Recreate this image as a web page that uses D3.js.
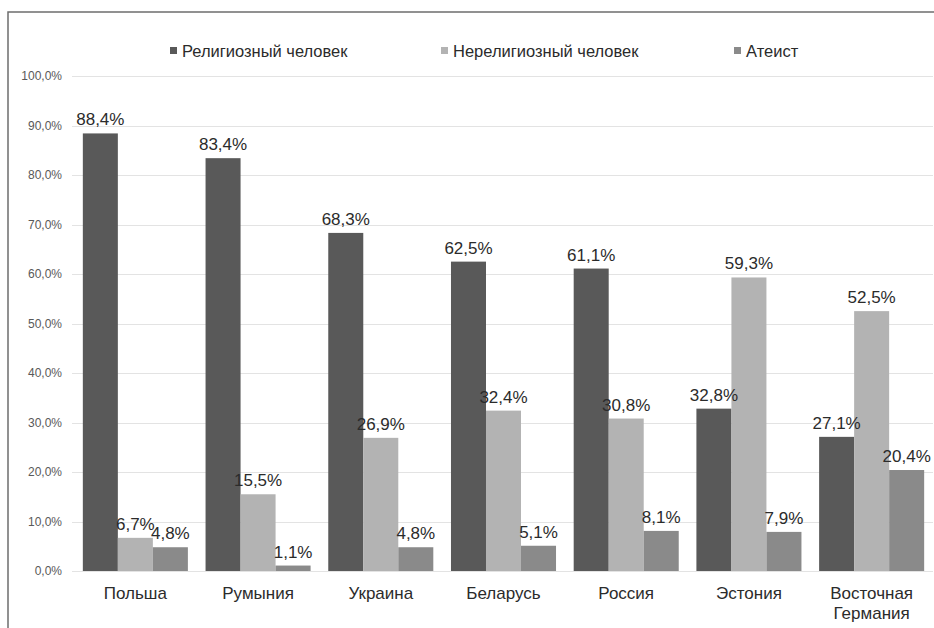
<!DOCTYPE html>
<html>
<head>
<meta charset="utf-8">
<script src="https://cdn.jsdelivr.net/npm/d3@7"></script>
<style>
  html, body { margin: 0; padding: 0; background: #fff; }
  svg { display: block; font-family: "Liberation Sans", Arial, sans-serif; }
</style>
</head>
<body>
<svg id="chart" width="934" height="628"></svg>
<script>
// ---- data ----
const categories = [["Польша"], ["Румыния"], ["Украина"], ["Беларусь"], ["Россия"], ["Эстония"], ["Восточная", "Германия"]];
const seriesNames = ["Религиозный человек", "Нерелигиозный человек", "Атеист"];
const religious   = [88.4, 83.4, 68.3, 62.5, 61.1, 32.8, 27.1];
const nonReligious = [6.7, 15.5, 26.9, 32.4, 30.8, 59.3, 52.5];
const atheist     = [4.8, 1.1, 4.8, 5.1, 8.1, 7.9, 20.4];
const yTicks = [0, 10, 20, 30, 40, 50, 60, 70, 80, 90, 100];

const seriesValues = [religious, nonReligious, atheist];
const colors = ["#595959", "#b3b3b3", "#8a8a8a"];
const fmt = v => v.toFixed(1).replace(".", ",") + "%";

const svg = d3.select("#chart");

// frame (partial border)
svg.append("path")
  .attr("d", "M8,628 L8,12 L934,12")
  .attr("fill", "none").attr("stroke", "#6e6e6e").attr("stroke-width", 1.5);

const catKeys = categories.map(c => c.join(" "));
const x = d3.scaleBand().domain(catKeys).range([74, 933]).paddingInner(0.144).paddingOuter(0.072);
const xs = d3.scaleBand().domain(seriesNames).range([0, x.bandwidth()]).padding(0);
const y = d3.scaleLinear().domain([0, 100]).range([571, 76]);

// gridlines
svg.append("g").selectAll("line").data(yTicks).join("line")
  .attr("x1", 72).attr("x2", 933)
  .attr("y1", d => Math.round(y(d)) + 0.5).attr("y2", d => Math.round(y(d)) + 0.5)
  .attr("stroke", "#e3e3e3").attr("stroke-width", 1);

// y axis labels
const yAxis = d3.axisLeft(y).tickValues(yTicks).tickSize(0).tickPadding(0).tickFormat(fmt);
const gy = svg.append("g").attr("transform", "translate(62,0)").call(yAxis);
gy.select(".domain").remove();
gy.selectAll("text").attr("font-size", 12).attr("fill", "#595959")
  .attr("font-family", "'Liberation Sans', Arial, sans-serif");

// bars
const rows = [];
catKeys.forEach((c, i) => seriesNames.forEach((s, j) => rows.push({ c, s, j, v: seriesValues[j][i] })));

svg.append("g").selectAll("rect").data(rows).join("rect")
  .attr("x", d => x(d.c) + xs(d.s))
  .attr("y", d => y(d.v))
  .attr("width", xs.bandwidth())
  .attr("height", d => y(0) - y(d.v))
  .attr("fill", d => colors[d.j]);

// data labels
svg.append("g").selectAll("text").data(rows).join("text")
  .attr("x", d => x(d.c) + xs(d.s) + xs.bandwidth() / 2)
  .attr("y", d => y(d.v) - 8)
  .attr("text-anchor", "middle")
  .attr("font-size", 17).attr("fill", "#2b2b2b")
  .text(d => fmt(d.v));

// x axis labels
const gx = svg.append("g");
categories.forEach((lines, i) => {
  const t = gx.append("text")
    .attr("x", x(catKeys[i]) + x.bandwidth() / 2)
    .attr("y", 599)
    .attr("text-anchor", "middle")
    .attr("font-size", 17).attr("fill", "#2b2b2b");
  lines.forEach((ln, k) => t.append("tspan")
    .attr("x", x(catKeys[i]) + x.bandwidth() / 2)
    .attr("dy", k === 0 ? 0 : 20).text(ln));
});

// legend
const legendX = [170, 441, 734];
const lg = svg.append("g");
seriesNames.forEach((s, j) => {
  lg.append("rect").attr("x", legendX[j]).attr("y", 47).attr("width", 7).attr("height", 7).attr("fill", colors[j]);
  lg.append("text").attr("x", legendX[j] + 12).attr("y", 56.5)
    .attr("font-size", 16.5).attr("fill", "#2b2b2b").text(s);
});
</script>
</body>
</html>
